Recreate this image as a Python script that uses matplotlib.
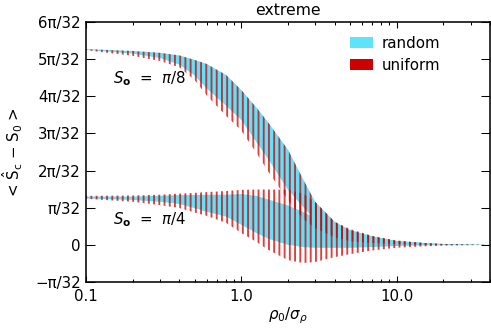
import numpy as np
import matplotlib
matplotlib.use("Agg")
import matplotlib.pyplot as plt
from matplotlib.patches import Patch
from matplotlib.ticker import FixedLocator, LogLocator, NullFormatter

# ---------------- data (values in units of pi/32) ----------------
x = [0.1, 0.2, 0.3, 0.4, 0.5, 0.6, 0.8, 1.0, 1.25, 1.5, 2.0, 2.5, 3.0,
     4.0, 5.0, 7.0, 10.0, 15.0, 20.0, 30.0, 40.0]

# S0 = pi/8 band
rand_top_8 = [5.27, 5.22, 5.17, 5.10, 4.98, 4.87, 4.57, 4.17, 3.70, 3.28, 2.56,
              1.77, 1.15, 0.62, 0.40, 0.23, 0.105, 0.05, 0.025, 0.01, 0.0]
rand_bot_8 = [5.25, 5.15, 5.03, 4.85, 4.56, 4.21, 3.74, 3.36, 2.77, 2.29, 1.48,
              1.02, 0.67, 0.29, 0.16, 0.08, 0.03, 0.01, 0.0, 0.0, 0.0]
unif_top_8 = rand_top_8
unif_bot_8 = [5.24, 5.09, 4.95, 4.78, 4.44, 4.02, 3.47, 3.08, 2.48, 1.96, 1.20,
              0.70, 0.45, 0.20, 0.10, 0.05, 0.02, 0.0, 0.0, 0.0, 0.0]

# S0 = pi/4 band
rand_top_4 = [1.30, 1.30, 1.32, 1.34, 1.34, 1.35, 1.35, 1.37, 1.32, 1.22, 1.06,
              0.89, 0.72, 0.51, 0.37, 0.21, 0.10, 0.05, 0.02, 0.01, 0.0]
rand_bot_4 = [1.25, 1.21, 1.16, 1.10, 0.99, 0.89, 0.76, 0.54, 0.32, 0.16, 0.0,
              -0.06, -0.08, -0.08, -0.08, -0.06, -0.03, -0.015, -0.01, -0.005, 0.0]
unif_top_4 = [1.32, 1.33, 1.35, 1.38, 1.40, 1.42, 1.45, 1.48, 1.49, 1.49, 1.48,
              1.38, 1.15, 0.62, 0.43, 0.24, 0.12, 0.05, 0.02, 0.01, 0.0]
unif_bot_4 = [1.24, 1.16, 1.07, 0.99, 0.87, 0.78, 0.59, 0.32, 0.08, -0.14, -0.41,
              -0.49, -0.46, -0.33, -0.25, -0.15, -0.08, -0.04, -0.02, -0.01, 0.0]

ytick_k = [-1, 0, 1, 2, 3, 4, 5, 6]
ytick_labels = ["\u2212\u03c0/32", "0", "\u03c0/32", "2\u03c0/32", "3\u03c0/32",
                "4\u03c0/32", "5\u03c0/32", "6\u03c0/32"]
xtick_vals = [0.1, 1.0, 10.0]
xtick_labels = ["0.1", "1.0", "10.0"]

CYAN = "#5fe3fa"
RED = "#cc0000"

# ---------------- figure ----------------
DPI = 94
plt.rcParams["font.family"] = ["DejaVu Sans"]
plt.rcParams["hatch.linewidth"] = 1.45
plt.rcParams["hatch.color"] = RED

fig = plt.figure(figsize=(491 / DPI, 329 / DPI), dpi=DPI)
ax = fig.add_axes([86 / 491, 47 / 329, 404 / 491, 260 / 329])

u = np.pi / 32
xa = np.array(x)

def sc(v):
    return np.array(v) * u

ax.fill_between(xa, sc(rand_bot_8), sc(rand_top_8), facecolor=CYAN,
                edgecolor="none", linewidth=0, zorder=1)
ax.fill_between(xa, sc(rand_bot_4), sc(rand_top_4), facecolor=CYAN,
                edgecolor="none", linewidth=0, zorder=1)
red_a = (0.82, 0.0, 0.0, 0.75)
ax.fill_between(xa, sc(unif_bot_8), sc(unif_top_8), facecolor="none",
                edgecolor=red_a, hatch="|||", linewidth=0, zorder=2)
ax.fill_between(xa, sc(unif_bot_4), sc(unif_top_4), facecolor="none",
                edgecolor=red_a, hatch="|||", linewidth=0, zorder=2)

ax.set_xscale("log")
ax.set_xlim(0.1, 40)
ax.set_ylim(-u, 6 * u)

ax.xaxis.set_major_locator(FixedLocator(xtick_vals))
ax.set_xticklabels(xtick_labels)
ax.xaxis.set_minor_locator(LogLocator(base=10, subs=np.arange(2, 10)))
ax.xaxis.set_minor_formatter(NullFormatter())
ax.set_yticks([k * u for k in ytick_k])
ax.set_yticklabels(ytick_labels)
ax.yaxis.set_minor_locator(FixedLocator([]))

ax.tick_params(axis="both", which="both", direction="in", top=True, right=True,
               labelsize=11.5, colors="black")
ax.tick_params(axis="x", which="major", length=4.6, width=0.8, pad=5)
ax.tick_params(axis="x", which="minor", length=2.6, width=0.8)
ax.tick_params(axis="y", which="major", length=7, width=0.8, pad=4)
for s in ax.spines.values():
    s.set_linewidth(1.2)

ax.set_title("extreme", fontsize=12, pad=5)
fig.text(288 / 491, 3 / 329, r"$\rho_0/\sigma_\rho$",
         fontsize=11.5, ha="center", va="bottom")
fig.text(13 / 491, 1 - 152 / 329,
         "< $\\hat{\\mathrm{S}}_\\mathrm{c}$ \u2212 S$_0$ >",
         rotation=90, ha="center", va="center", fontsize=11.5)

ax.text(0.149, 4.47 * u, r"$S_\mathbf{o}$  =  $\pi$/8", fontsize=11.5,
        ha="left", va="center")
ax.text(0.149, 0.67 * u, r"$S_\mathbf{o}$  =  $\pi$/4", fontsize=11.5,
        ha="left", va="center")

handles = [Patch(facecolor=CYAN, edgecolor="none"),
           Patch(facecolor=RED, edgecolor="none")]
fig.legend(handles, ["random", "uniform"], loc="upper left",
           bbox_to_anchor=(350 / 491, 1 - 36 / 329), frameon=False,
           fontsize=11.5, handlelength=1.55, handleheight=0.72,
           handletextpad=0.55, labelspacing=0.45, borderpad=0,
           borderaxespad=0)

fig.savefig("out.png", dpi=DPI)
